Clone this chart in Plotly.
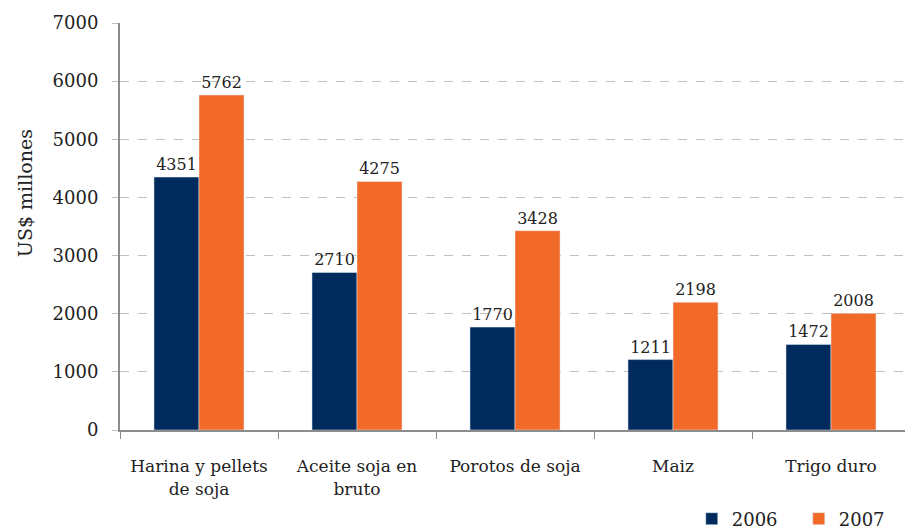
import plotly.graph_objects as go

categories = ["Harina y pellets<br>de soja", "Aceite soja en<br>bruto", "Porotos de soja", "Maiz", "Trigo duro"]
values_2006 = [4351, 2710, 1770, 1211, 1472]
values_2007 = [5762, 4275, 3428, 2198, 2008]
y_ticks = [0, 1000, 2000, 3000, 4000, 5000, 6000, 7000]
y_title = "US$ millones"

FONT = "DejaVu Serif"

fig = go.Figure()
fig.add_trace(go.Bar(x=categories, y=values_2006, name="2006", marker_color="#002B5C",
                     text=values_2006, textposition="outside", cliponaxis=False,
                     textfont=dict(size=16, color="#222", family=FONT)))
fig.add_trace(go.Bar(x=categories, y=values_2007, name="2007", marker_color="#F26A27",
                     text=values_2007, textposition="outside", cliponaxis=False,
                     textfont=dict(size=16, color="#222", family=FONT)))

fig.update_layout(
    width=905, height=521,
    margin=dict(l=112, r=3, t=15, b=99, autoexpand=False),
    paper_bgcolor="white", plot_bgcolor="white",
    barmode="group", bargap=0.43, bargroupgap=0,
    font=dict(family=FONT, size=18, color="#222"),
    legend=dict(orientation="h", x=0.992, xanchor="right", xref="container",
                y=-0.2187, yanchor="middle", yref="paper",
                font=dict(size=18, family=FONT), itemwidth=30, traceorder="normal",
                entrywidth=62, entrywidthmode="pixels"),
    showlegend=True,
)
fig.add_annotation(text=y_title, textangle=-90, xref="paper", yref="paper",
                   x=0, y=0.582, xanchor="center", yanchor="middle", xshift=-95,
                   showarrow=False, font=dict(size=19, family=FONT, color="#222"))
fig.update_xaxes(showline=True, linecolor="#8c8c8c", linewidth=2,
                 ticks="outside", tickson="boundaries", ticklen=7, tickcolor="#8c8c8c",
                 ticklabelstandoff=20,
                 tickfont=dict(size=17, family=FONT), showgrid=False, automargin=False)
fig.update_yaxes(range=[0, 7000], tickvals=y_ticks, showline=True, linecolor="#8c8c8c", linewidth=2,
                 ticks="outside", ticklen=6, tickcolor="#c0c0c0", ticklabelstandoff=10,
                 showgrid=True, gridcolor="#c0c0c0", griddash="dash", gridwidth=1,
                 tickfont=dict(size=18, family=FONT), automargin=False,
                 zeroline=False)

fig.write_html("out.html")
